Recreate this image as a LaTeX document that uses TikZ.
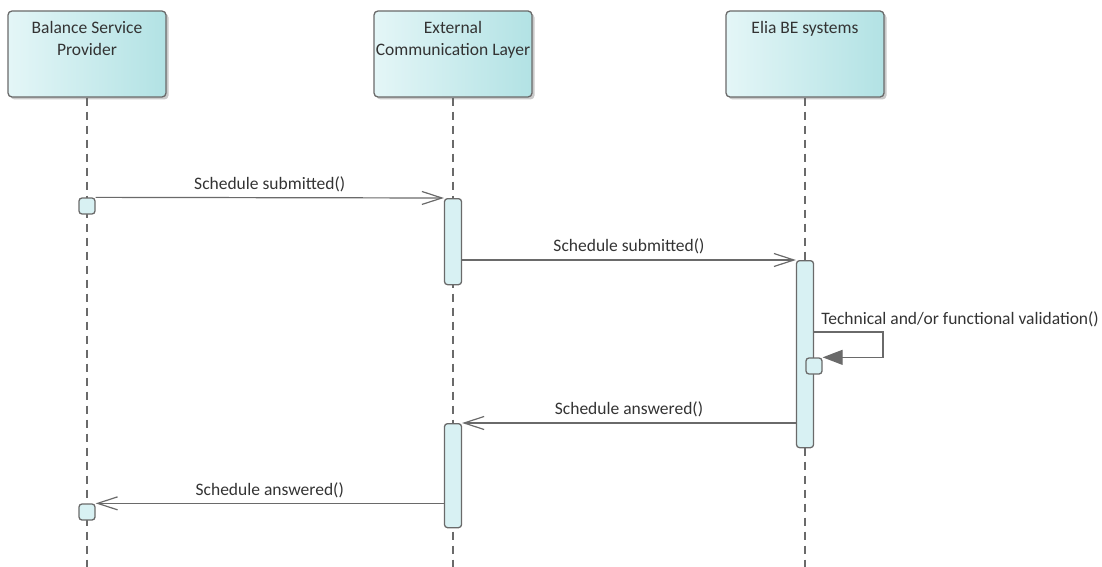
\documentclass[tikz,border=0pt]{standalone}
\usepackage{fontspec}
\setmainfont{Carlito}
\usetikzlibrary{arrows.meta,shadows}
\definecolor{edgec}{HTML}{6A6A6A}
\definecolor{hdleft}{HTML}{E4F6F7}
\definecolor{hdright}{HTML}{B2E2E4}
\definecolor{actfill}{HTML}{D8F1F3}
\definecolor{txtc}{HTML}{333333}
\begin{document}
\begin{tikzpicture}[x=1pt,y=-1pt,
  font=\fontsize{17.5}{22}\selectfont, text=txtc,
  actor/.style={draw=edgec, line width=1.3pt, rounded corners=4pt,
    left color=hdleft, right color=hdright, shading angle=90,
    minimum width=158pt, minimum height=86pt, inner sep=0pt,
    drop shadow={shadow xshift=2.5pt, shadow yshift=-2.5pt, opacity=0.35, fill=black!60}},
  hdtext/.style={anchor=north, align=center, inner sep=0pt},
  lifeline/.style={draw=edgec, line width=1.2pt, dash pattern=on 8pt off 6pt},
  actbar/.style={draw=edgec, line width=1.3pt, fill=actfill, rounded corners=3pt,
    minimum width=17pt, inner sep=0pt, anchor=north},
  stub/.style={draw=edgec, line width=1.3pt, fill=actfill, rounded corners=3pt,
    minimum width=16pt, minimum height=16pt, inner sep=0pt},
  msg/.style={draw=edgec, line width=1.2pt, -{Straight Barb[length=20pt,width=13pt,line width=1.2pt]}},
  selfmsg/.style={draw=edgec, line width=1.2pt, -{Triangle[length=20pt,width=15pt]}},
  lbl/.style={inner sep=0pt}
]
\useasboundingbox (0,0) rectangle (1102,567);

% lifeline heads
\node[actor] (bsp) at (87,54) {};
\node[actor] (ecl) at (453,54) {};
\node[actor] (elia) at (805,54) {};
\node[hdtext] at ([yshift=-11pt]bsp.north) {Balance Service\\Provider};
\node[hdtext] at ([yshift=-11pt]ecl.north) {External\\Communication Layer};
\node[hdtext] at ([yshift=-11pt]elia.north) {Elia BE systems};

\coordinate (bottom) at (0,567);
\draw[lifeline] (bsp.south) -- (bsp.south |- bottom);
\draw[lifeline] (ecl.south) -- (ecl.south |- bottom);
\draw[lifeline] (elia.south) -- (elia.south |- bottom);

% activations
\node[stub] (b1) at (87,206) {};
\node[actbar, minimum height=86pt] (a1) at (453,198) {};
\node[actbar, minimum height=187pt] (a3) at (805,260) {};
\node[stub] (sb) at (814,366) {};
\node[actbar, minimum height=104pt] (a2) at (453,423) {};
\node[stub] (b2) at (87,512) {};

% messages
\draw[msg] (b1.north east) -- node[lbl, midway, above=5pt] {Schedule submitted()} (a1.north west);
\draw[msg] (a1.east |- a3.north) -- node[lbl, midway, above=5pt] {Schedule submitted()} (a3.north west);
\coordinate (selfout) at (883,332);
\draw[selfmsg] (a3.east |- selfout) -- (selfout) |- (sb.north east);
\node[lbl, anchor=south west] at ([xshift=7pt, yshift=5pt]a3.east |- selfout) {Technical and/or functional validation()};
\draw[msg] (a3.west |- a2.north) -- node[lbl, midway, above=5pt] {Schedule answered()} (a2.north east);
\draw[msg] (a2.west |- b2.north) -- node[lbl, midway, above=5pt] {Schedule answered()} (b2.north east);
\end{tikzpicture}
\end{document}
